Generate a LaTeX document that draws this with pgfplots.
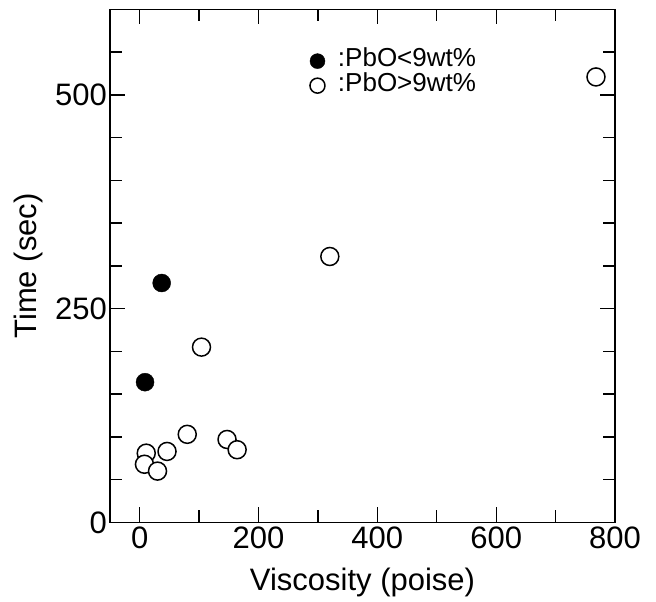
\documentclass[border=0pt]{standalone}
\usepackage{fontspec}
\setmainfont{Liberation Sans}
\usepackage{pgfplots}
\pgfplotsset{compat=1.18}
\usetikzlibrary{calc}
\begin{document}
\begin{tikzpicture}
\begin{axis}[
  scale only axis,
  width=505pt, height=513pt,
  xmin=-50, xmax=800, ymin=0, ymax=600,
  xtick={0,200,...,800},
  minor xtick={100,300,500,700},
  ytick={0,250,500},
  minor ytick={50,100,150,200,300,350,400,450,550},
  tick align=inside,
  major tick length=15pt, minor tick length=12pt,
  every tick/.style={black, line width=1.3pt},
  axis line style={line width=1.3pt},
  tick label style={font=\fontsize{31}{34}\selectfont, inner sep=2pt},
  /pgf/number format/assume math mode=true,
  xticklabel style={yshift=-2pt},
  yticklabel style={xshift=-1pt},
  xlabel={Viscosity (poise)}, ylabel={Time (sec)},
  label style={font=\fontsize{31}{34}\selectfont},
  xlabel style={yshift=-14pt},
  ylabel style={yshift=7pt},
  legend style={at={(0.396,0.923)}, anchor=north west, draw=none, fill=none,
    inner sep=0pt, outer sep=0pt,
    font=\fontsize{26}{26}\selectfont,
    nodes={inner sep=0pt, text height=18pt, text depth=6.5pt}},
  legend cell align=left,
  legend image code/.code={\draw[#1, mark size=7.5pt] plot coordinates {(0pt,0pt)};},
]
\addplot[only marks, mark=*, mark size=9pt, draw=black, fill=black] coordinates {
  (37,280) (9,164)
};
\addlegendentry{\hspace{13pt}:PbO<9wt\%}
\addplot[only marks, mark=*, mark size=9pt, draw=black, fill=white, line width=1.5pt] coordinates {
  (104,205) (320,311) (768,521) (80,103) (46,83) (11,81) (8,68) (30,60) (147,97) (164,85)
};
\addlegendentry{\hspace{13pt}:PbO>9wt\%}
\end{axis}
\path[use as bounding box] ($(current axis.south west)+(-110pt,-79pt)$) rectangle ($(current axis.north east)+(41pt,9.4pt)$);
\end{tikzpicture}
\end{document}
